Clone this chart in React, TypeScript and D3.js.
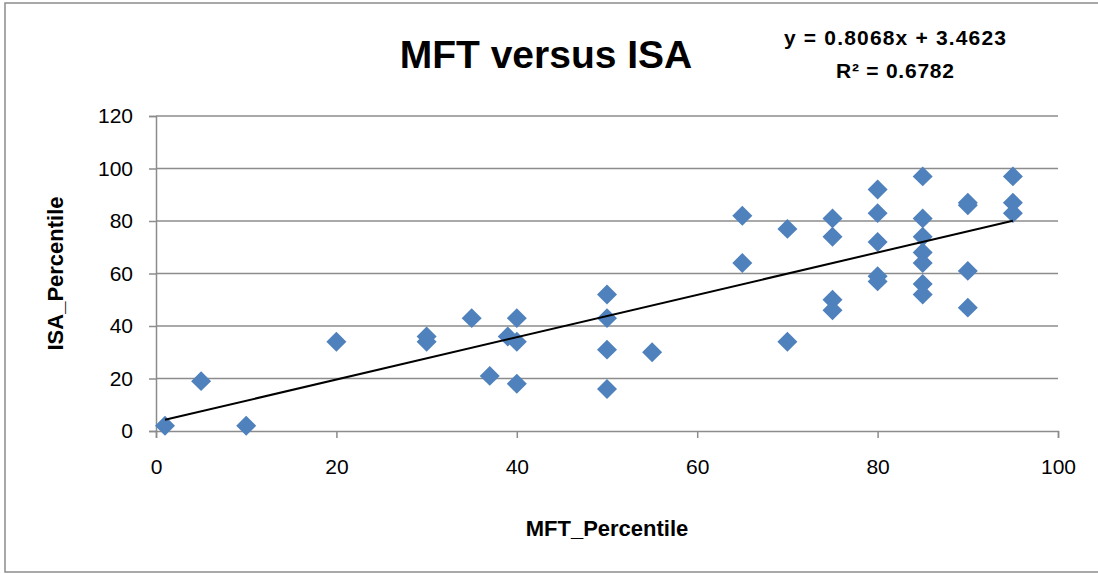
import * as d3 from "d3";
import { useEffect, useRef } from "react";

const mftPercentile = [
  1, 5, 10, 20, 30, 30, 35, 37, 39, 40, 40, 40, 50, 50, 50, 50, 55, 65, 65, 70, 70,
  75, 75, 75, 75, 80, 80, 80, 80, 80, 85, 85, 85, 85, 85, 85, 85, 90, 90, 90, 90, 95,
  95, 95,
];
const isaPercentile = [
  2, 19, 2, 34, 34, 36, 43, 21, 36, 43, 34, 18, 52, 43, 31, 16, 30, 82, 64, 77, 34,
  81, 74, 50, 46, 92, 83, 72, 59, 57, 97, 81, 74, 68, 64, 56, 52, 87, 86, 61, 47, 97,
  87, 83,
];
const xTicks = [0, 20, 40, 60, 80, 100];
const yTicks = [0, 20, 40, 60, 80, 100, 120];
const slope = 0.8068;
const intercept = 3.4623;
const rSquared = 0.6782;

const FONT = "'Liberation Sans', Arial, sans-serif";

export default function App() {
  const svgRef = useRef<SVGSVGElement | null>(null);

  useEffect(() => {
    const svg = d3.select(svgRef.current);
    const width = 1098;
    const height = 574;
    const margin = { top: 116, right: 40, bottom: 143, left: 156 };

    svg.selectAll("*").remove();
    svg.attr("width", width).attr("height", height);

    svg
      .append("rect")
      .attr("x", 5)
      .attr("y", 3)
      .attr("width", width + 10)
      .attr("height", 569)
      .attr("fill", "#fff")
      .attr("stroke", "#8c8c8c")
      .attr("stroke-width", 1.5);

    const x = d3
      .scaleLinear()
      .domain([0, 100])
      .range([margin.left, width - margin.right]);

    const y = d3
      .scaleLinear()
      .domain([0, 120])
      .range([height - margin.bottom, margin.top]);

    // gridlines
    svg
      .selectAll(".grid")
      .data(yTicks.filter((t) => t > 0))
      .enter()
      .append("line")
      .attr("x1", x(0))
      .attr("x2", x(100))
      .attr("y1", (d) => y(d))
      .attr("y2", (d) => y(d))
      .attr("stroke", "#8c8c8c")
      .attr("stroke-width", 1.5);

    const xAxis = svg
      .append("g")
      .attr("transform", `translate(0,${y(0)})`)
      .call(d3.axisBottom(x).tickValues(xTicks).tickSize(7).tickPadding(21));
    xAxis.select(".domain").attr("stroke", "#8c8c8c").attr("stroke-width", 1.5);
    xAxis.selectAll(".tick line").attr("stroke", "#8c8c8c").attr("stroke-width", 1.5);
    xAxis
      .selectAll(".tick text")
      .attr("font-family", FONT)
      .attr("font-size", 21)
      .attr("fill", "#000");

    const yAxis = svg
      .append("g")
      .attr("transform", `translate(${x(0)},0)`)
      .call(d3.axisLeft(y).tickValues(yTicks).tickSize(7).tickPadding(16));
    yAxis.select(".domain").attr("stroke", "#8c8c8c").attr("stroke-width", 1.5);
    yAxis.selectAll(".tick line").attr("stroke", "#8c8c8c").attr("stroke-width", 1.5);
    yAxis
      .selectAll(".tick text")
      .attr("font-family", FONT)
      .attr("font-size", 21)
      .attr("fill", "#000");

    const points = mftPercentile.map((m, i) => ({ mft: m, isa: isaPercentile[i] }));

    const diamond = d3.symbol().type(d3.symbolSquare).size(200);

    svg
      .selectAll(".data-point")
      .data(points)
      .enter()
      .append("path")
      .attr("class", "data-point")
      .attr("d", diamond)
      .attr("transform", (d) => `translate(${x(d.mft)},${y(d.isa)}) rotate(45)`)
      .attr("fill", "#4f81bd");

    // linear trendline
    const [xMin, xMax] = d3.extent(mftPercentile) as [number, number];
    const line = d3
      .line<number>()
      .x((d) => x(d))
      .y((d) => y(slope * d + intercept));

    svg
      .append("path")
      .datum([xMin, xMax])
      .attr("fill", "none")
      .attr("stroke", "#000")
      .attr("stroke-width", 2)
      .attr("d", line);

    svg
      .append("text")
      .attr("x", 546)
      .attr("y", 68)
      .attr("text-anchor", "middle")
      .attr("font-family", FONT)
      .attr("font-weight", "bold")
      .attr("font-size", 39)
      .text("MFT versus ISA");

    svg
      .append("text")
      .attr("x", 895)
      .attr("y", 45)
      .attr("text-anchor", "middle")
      .attr("font-family", FONT)
      .attr("font-weight", "bold")
      .attr("font-size", 21)
      .attr("textLength", 222)
      .attr("lengthAdjust", "spacing")
      .text(`y = ${slope}x + ${intercept}`);

    svg
      .append("text")
      .attr("x", 895)
      .attr("y", 78)
      .attr("text-anchor", "middle")
      .attr("font-family", FONT)
      .attr("font-weight", "bold")
      .attr("font-size", 21)
      .attr("textLength", 118)
      .attr("lengthAdjust", "spacing")
      .text(`R² = ${rSquared}`);

    svg
      .append("text")
      .attr("x", 607)
      .attr("y", 536)
      .attr("text-anchor", "middle")
      .attr("font-family", FONT)
      .attr("font-weight", "bold")
      .attr("font-size", 22)
      .text("MFT_Percentile");

    svg
      .append("text")
      .attr("transform", `translate(63,${y(60)}) rotate(-90)`)
      .attr("text-anchor", "middle")
      .attr("font-family", FONT)
      .attr("font-weight", "bold")
      .attr("font-size", 22)
      .text("ISA_Percentile");
  }, []);

  return (
    <svg
      ref={svgRef}
      style={{ position: "absolute", left: 0, top: 0, display: "block" }}
    ></svg>
  );
}
